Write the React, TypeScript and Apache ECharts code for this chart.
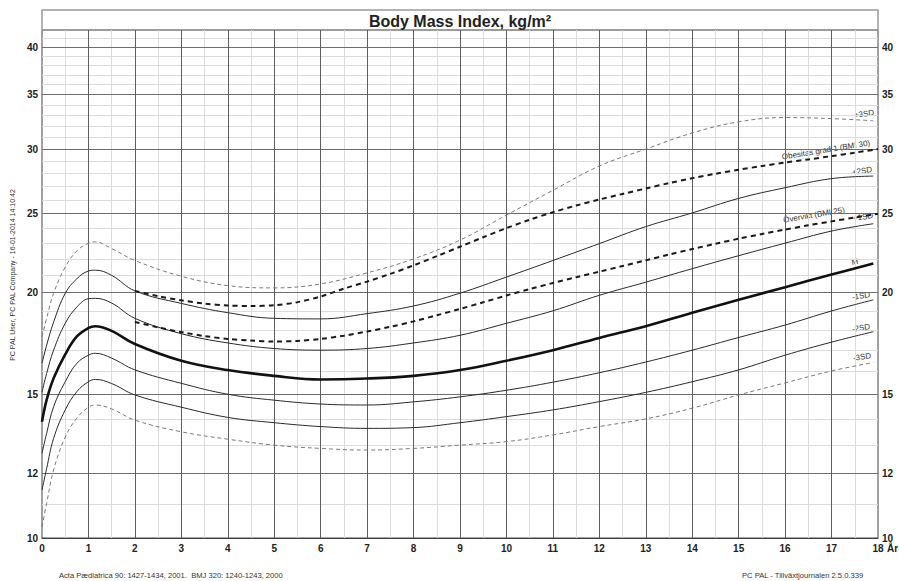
import React, { useEffect, useRef } from "react";
import * as echarts from "echarts";

// Ages (years) at which the reference curves were read
const AGES = [0, 0.1, 0.25, 0.5, 0.75, 1, 1.15, 1.5, 2, 3, 4, 5, 6, 7, 8, 9, 10, 11, 12, 13, 14, 15, 16, 17, 17.9];

const SD_P3 = [17.65, 18.6, 19.96, 21.5, 22.5, 23.0, 23.08, 22.65, 21.9, 20.95, 20.4, 20.27, 20.5, 21.15, 22.0, 23.2, 24.9, 26.7, 28.6, 30.0, 31.4, 32.4, 32.8, 32.7, 32.5];
const SD_P2 = [16.38, 17.24, 18.4, 19.96, 20.8, 21.26, 21.31, 21.0, 20.1, 19.4, 18.9, 18.6, 18.57, 18.85, 19.26, 19.97, 20.9, 21.9, 22.97, 24.1, 25.05, 26.1, 26.9, 27.6, 27.8];
const SD_P1 = [15.09, 15.92, 17.0, 18.34, 19.2, 19.66, 19.68, 19.42, 18.6, 17.81, 17.35, 17.08, 17.0, 17.08, 17.35, 17.73, 18.34, 19.0, 19.85, 20.6, 21.4, 22.2, 23.0, 23.8, 24.3];
const SD_M = [13.89, 14.77, 15.7, 16.8, 17.67, 18.1, 18.19, 17.95, 17.3, 16.5, 16.07, 15.81, 15.65, 15.69, 15.81, 16.07, 16.5, 17.0, 17.6, 18.19, 18.89, 19.6, 20.31, 21.05, 21.72];
const SD_M1 = [12.7, 13.44, 14.49, 15.55, 16.38, 16.76, 16.85, 16.62, 16.08, 15.48, 15.01, 14.76, 14.6, 14.56, 14.69, 14.9, 15.18, 15.53, 15.95, 16.44, 17.0, 17.62, 18.25, 18.99, 19.6];
const SD_M2 = [11.45, 12.17, 13.25, 14.36, 15.12, 15.55, 15.65, 15.47, 14.98, 14.47, 14.06, 13.85, 13.7, 13.63, 13.66, 13.85, 14.09, 14.36, 14.7, 15.09, 15.55, 16.08, 16.76, 17.39, 17.91];
const SD_M3 = [10.32, 11.03, 12.12, 13.3, 14.03, 14.47, 14.56, 14.4, 13.95, 13.5, 13.22, 13.0, 12.88, 12.82, 12.88, 13.0, 13.13, 13.38, 13.7, 14.0, 14.43, 14.98, 15.5, 16.03, 16.42];

// Cut-off lines (age 2 to 18)
const CUT_AGES = [2, 2.5, 3, 3.5, 4, 4.5, 5, 5.5, 6, 6.5, 7, 7.5, 8, 8.5, 9, 9.5, 10, 10.5, 11, 11.5, 12, 12.5, 13, 13.5, 14, 14.5, 15, 15.5, 16, 16.5, 17, 17.5, 18];
const OBESE = [20.09, 19.8, 19.57, 19.39, 19.29, 19.26, 19.3, 19.47, 19.78, 20.23, 20.63, 21.09, 21.6, 22.17, 22.77, 23.39, 24.0, 24.57, 25.1, 25.58, 26.02, 26.43, 26.84, 27.25, 27.63, 27.98, 28.3, 28.6, 28.88, 29.14, 29.41, 29.7, 30.0];
const OVERWEIGHT = [18.41, 18.13, 17.89, 17.69, 17.55, 17.47, 17.42, 17.45, 17.55, 17.71, 17.92, 18.16, 18.44, 18.76, 19.1, 19.46, 19.84, 20.2, 20.55, 20.89, 21.22, 21.56, 21.91, 22.27, 22.62, 22.96, 23.29, 23.6, 23.9, 24.19, 24.46, 24.73, 25.0];

const Y_TICKS = [10, 12, 15, 20, 25, 30, 35, 40];
const Y_MINOR = [11, 13, 14, 16, 17, 18, 19, 21, 22, 23, 24, 26, 27, 28, 29, 31, 32, 33, 34, 36, 37, 38, 39, 41];
const X_MAJOR = [1, 2, 3, 4, 5, 6, 7, 8, 9, 10, 11, 12, 13, 14, 15, 16, 17];
const X_MINOR = [0.5, 1.5, 2.5, 3.5, 4.5, 5.5, 6.5, 7.5, 8.5, 9.5, 10.5, 11.5, 12.5, 13.5, 14.5, 15.5, 16.5, 17.5];

const CURVE_LABELS = ["+3SD", "+2SD", "+1SD", "M", "-1SD", "-2SD", "-3SD"];
const TITLE = "Body Mass Index, kg/m²";

const FONT = "Liberation Sans, Arial, Helvetica, sans-serif";

function pair(xs: number[], ys: number[]) {
  return ys.map((v, i) => [xs[i], v]);
}

export default function App() {
  const ref = useRef<HTMLDivElement>(null);

  useEffect(() => {
    if (!ref.current) return;
    const chart = echarts.init(ref.current, null, { renderer: "svg" });

    const gridLines: any[] = [];
    Y_MINOR.forEach((v) => gridLines.push({ yAxis: v, lineStyle: { color: "#dcdcdc", width: 1, type: "solid" } }));
    X_MINOR.forEach((v) => gridLines.push({ xAxis: v, lineStyle: { color: "#dcdcdc", width: 1, type: "solid" } }));
    Y_TICKS.slice(1).forEach((v) => gridLines.push({ yAxis: v, lineStyle: { color: "#6e6e6e", width: 1, type: "solid" } }));
    X_MAJOR.forEach((v) => gridLines.push({ xAxis: v, lineStyle: { color: "#5e5e5e", width: 1, type: "solid" } }));

    const curve = (name: string, data: number[], style: any, z = 5) => ({
      name,
      type: "line",
      data: pair(AGES, data),
      showSymbol: false,
      symbol: "none",
      smooth: 0.4,
      lineStyle: style,
      z,
      silent: true,
    });

    const solid = { color: "#2a2a2a", width: 1, type: "solid" };
    const dashedGray = { color: "#7a7a7a", width: 1, type: [4, 3] };
    const cutStyle = { color: "#1a1a1a", width: 2, type: [5, 4] };

    const txt = (text: string, x: number, y: number, opts: any = {}) => ({
      type: "text",
      x,
      y,
      rotation: opts.rotation || 0,
      silent: true,
      style: {
        text,
        fontFamily: FONT,
        fontSize: opts.size || 8,
        fontWeight: opts.weight || "normal",
        fill: opts.color || "#333",
        align: opts.align || "center",
        verticalAlign: "middle",
      },
    });

    const labelRot = 0.16;
    const axisFont = { fontFamily: FONT, fontSize: 10, fontWeight: "bold", color: "#222" };

    chart.setOption({
      animation: false,
      backgroundColor: "#ffffff",
      grid: {
        left: 42,
        right: 21,
        top: 30,
        bottom: 43,
        show: true,
        borderColor: "#444",
        borderWidth: 1,
        backgroundColor: "transparent",
        containLabel: false,
      },
      xAxis: {
        type: "value",
        min: 0,
        max: 18,
        interval: 1,
        axisLine: { show: true, lineStyle: { color: "#444" } },
        axisTick: { show: false },
        splitLine: { show: false },
        axisLabel: { margin: 5, ...axisFont, showMinLabel: true, showMaxLabel: true },
      },
      yAxis: [
        {
          type: "log",
          logBase: 10,
          min: 10,
          max: 42,
          position: "left",
          axisLine: { show: false },
          axisTick: { show: false, customValues: Y_TICKS },
          splitLine: { show: false },
          axisLabel: { customValues: Y_TICKS, margin: 4, ...axisFont },
        },
        {
          type: "log",
          logBase: 10,
          min: 10,
          max: 42,
          position: "right",
          axisLine: { show: false },
          axisTick: { show: false, customValues: Y_TICKS },
          splitLine: { show: false },
          axisLabel: { customValues: Y_TICKS, margin: 4, ...axisFont },
        },
      ],
      series: [
        {
          name: "grid",
          type: "line",
          data: [[0, 10]],
          showSymbol: false,
          symbol: "none",
          lineStyle: { opacity: 0 },
          z: 1,
          silent: true,
          markLine: {
            silent: true,
            symbol: ["none", "none"],
            label: { show: false },
            animation: false,
            data: gridLines,
          },
        },
        curve("+3SD", SD_P3, dashedGray),
        curve("+2SD", SD_P2, solid),
        curve("+1SD", SD_P1, solid),
        curve("M", SD_M, { color: "#111", width: 2.6, type: "solid" }, 6),
        curve("-1SD", SD_M1, solid),
        curve("-2SD", SD_M2, solid),
        curve("-3SD", SD_M3, dashedGray),
        {
          name: "Obesitas grad 1 (BMI 30)",
          type: "line",
          data: pair(CUT_AGES, OBESE),
          showSymbol: false,
          symbol: "none",
          smooth: 0.3,
          lineStyle: cutStyle,
          z: 7,
          silent: true,
        },
        {
          name: "Övervikt (BMI 25)",
          type: "line",
          data: pair(CUT_AGES, OVERWEIGHT),
          showSymbol: false,
          symbol: "none",
          smooth: 0.3,
          lineStyle: cutStyle,
          z: 7,
          silent: true,
        },
      ],
      graphic: [
        {
          type: "rect",
          shape: { x: 42, y: 10, width: 836, height: 20 },
          style: { fill: "none", stroke: "#9a9a9a", lineWidth: 1.5 },
          silent: true,
        },
        txt(TITLE, 460, 21, { size: 16, weight: "bold", color: "#222" }),
        txt("År", 887, 548, { size: 10, weight: "bold", color: "#222", align: "left" }),
        txt(CURVE_LABELS[0], 864, 114, { rotation: labelRot }),
        txt(CURVE_LABELS[1], 862, 171, { rotation: labelRot }),
        txt(CURVE_LABELS[2], 863, 217, { rotation: labelRot }),
        txt(CURVE_LABELS[3], 855, 262, { rotation: labelRot }),
        txt(CURVE_LABELS[4], 861, 296, { rotation: labelRot }),
        txt(CURVE_LABELS[5], 861, 328, { rotation: labelRot }),
        txt(CURVE_LABELS[6], 862, 357, { rotation: labelRot }),
        txt("Obesitas grad 1 (BMI 30)", 826, 150, { rotation: 0.16 }),
        txt("Övervikt (BMI 25)", 814, 215, { rotation: 0.17 }),
        txt("Acta Pædiatrica 90: 1427-1434, 2001.  BMJ 320: 1240-1243, 2000", 59, 575, { size: 7.6, align: "left" }),
        txt("PC PAL - Tillväxtjournalen 2.5.0.339", 742, 575, { size: 7.6, align: "left" }),
        txt("PC PAL User, PC PAL Company - 16-01-2014 14:10:42", 12, 275, { size: 7, rotation: Math.PI / 2 }),
      ],
    });

    return () => chart.dispose();
  }, []);

  return (
    <div
      ref={ref}
      style={{ position: "fixed", left: 0, top: 0, width: 899, height: 581, background: "#fff" }}
    />
  );
}
